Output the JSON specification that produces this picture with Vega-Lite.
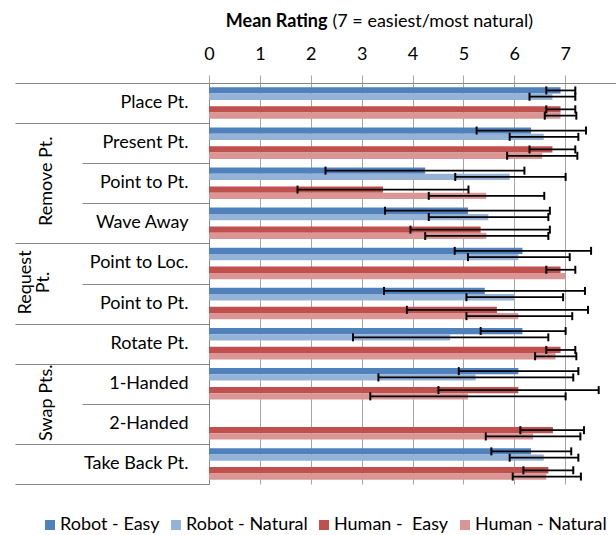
{
  "$schema": "https://vega.github.io/schema/vega-lite/v6.json",
  "width": 407,
  "height": 401,
  "autosize": {"type": "none"},
  "padding": {"left": 209, "top": 83, "right": 0, "bottom": 51},
  "background": "white",
  "config": {
    "font": "Lato",
    "view": {"stroke": null},
    "axis": {"labelFont": "Lato", "titleFont": "Lato", "labelFontSize": 18, "titleFontSize": 18, "labelColor": "#000", "titleColor": "#000"},
    "legend": {"labelFont": "Lato"}
  },
  "data": {
    "values": [
      {"task": "Place Pt.", "series": "Robot - Easy", "mean": 6.91, "lo": 6.63, "hi": 7.2},
      {"task": "Place Pt.", "series": "Robot - Natural", "mean": 6.75, "lo": 6.3, "hi": 7.2},
      {"task": "Place Pt.", "series": "Human - \u00a0Easy", "mean": 6.91, "lo": 6.63, "hi": 7.2},
      {"task": "Place Pt.", "series": "Human - Natural", "mean": 6.91, "lo": 6.6, "hi": 7.22},
      {"task": "Present Pt.", "series": "Robot - Easy", "mean": 6.33, "lo": 5.26, "hi": 7.41},
      {"task": "Present Pt.", "series": "Robot - Natural", "mean": 6.58, "lo": 5.91, "hi": 7.26},
      {"task": "Present Pt.", "series": "Human - \u00a0Easy", "mean": 6.75, "lo": 6.3, "hi": 7.2},
      {"task": "Present Pt.", "series": "Human - Natural", "mean": 6.55, "lo": 5.86, "hi": 7.24},
      {"task": "Point to Pt.", "series": "Robot - Easy", "mean": 4.25, "lo": 2.29, "hi": 6.2},
      {"task": "Point to Pt.", "series": "Robot - Natural", "mean": 5.91, "lo": 4.84, "hi": 7.01},
      {"task": "Point to Pt.", "series": "Human - \u00a0Easy", "mean": 3.42, "lo": 1.74, "hi": 5.1},
      {"task": "Point to Pt.", "series": "Human - Natural", "mean": 5.45, "lo": 4.32, "hi": 6.59},
      {"task": "Wave Away", "series": "Robot - Easy", "mean": 5.09, "lo": 3.46, "hi": 6.7},
      {"task": "Wave Away", "series": "Robot - Natural", "mean": 5.49, "lo": 4.32, "hi": 6.67},
      {"task": "Wave Away", "series": "Human - \u00a0Easy", "mean": 5.34, "lo": 3.96, "hi": 6.7},
      {"task": "Wave Away", "series": "Human - Natural", "mean": 5.45, "lo": 4.25, "hi": 6.67},
      {"task": "Point to Loc.", "series": "Robot - Easy", "mean": 6.16, "lo": 4.83, "hi": 7.51},
      {"task": "Point to Loc.", "series": "Robot - Natural", "mean": 6.08, "lo": 5.09, "hi": 7.09},
      {"task": "Point to Loc.", "series": "Human - \u00a0Easy", "mean": 6.91, "lo": 6.63, "hi": 7.2},
      {"task": "Point to Loc.", "series": "Human - Natural", "mean": 7.0, "lo": null, "hi": null},
      {"task": "Point to Pt.#2", "series": "Robot - Easy", "mean": 5.42, "lo": 3.44, "hi": 7.39},
      {"task": "Point to Pt.#2", "series": "Robot - Natural", "mean": 6.0, "lo": 5.06, "hi": 6.96},
      {"task": "Point to Pt.#2", "series": "Human - \u00a0Easy", "mean": 5.66, "lo": 3.89, "hi": 7.45},
      {"task": "Point to Pt.#2", "series": "Human - Natural", "mean": 6.08, "lo": 5.06, "hi": 7.14},
      {"task": "Rotate Pt.", "series": "Robot - Easy", "mean": 6.16, "lo": 5.34, "hi": 7.01},
      {"task": "Rotate Pt.", "series": "Robot - Natural", "mean": 4.74, "lo": 2.83, "hi": 6.67},
      {"task": "Rotate Pt.", "series": "Human - \u00a0Easy", "mean": 6.91, "lo": 6.63, "hi": 7.2},
      {"task": "Rotate Pt.", "series": "Human - Natural", "mean": 6.81, "lo": 6.41, "hi": 7.22},
      {"task": "1-Handed", "series": "Robot - Easy", "mean": 6.08, "lo": 4.91, "hi": 7.26},
      {"task": "1-Handed", "series": "Robot - Natural", "mean": 5.24, "lo": 3.33, "hi": 7.16},
      {"task": "1-Handed", "series": "Human - \u00a0Easy", "mean": 6.08, "lo": 4.51, "hi": 7.66},
      {"task": "1-Handed", "series": "Human - Natural", "mean": 5.09, "lo": 3.17, "hi": 7.01},
      {"task": "2-Handed", "series": "Human - \u00a0Easy", "mean": 6.76, "lo": 6.12, "hi": 7.37},
      {"task": "2-Handed", "series": "Human - Natural", "mean": 6.37, "lo": 5.44, "hi": 7.3},
      {"task": "Take Back Pt.", "series": "Robot - Easy", "mean": 6.33, "lo": 5.55, "hi": 7.12},
      {"task": "Take Back Pt.", "series": "Robot - Natural", "mean": 6.58, "lo": 5.91, "hi": 7.26},
      {"task": "Take Back Pt.", "series": "Human - \u00a0Easy", "mean": 6.67, "lo": 6.18, "hi": 7.16},
      {"task": "Take Back Pt.", "series": "Human - Natural", "mean": 6.63, "lo": 5.97, "hi": 7.31}
    ]
  },
  "layer": [
    {
      "mark": {"type": "bar", "opacity": 1},
      "encoding": {
        "y": {
          "field": "task", "type": "nominal",
          "sort": ["Place Pt.", "Present Pt.", "Point to Pt.", "Wave Away", "Point to Loc.", "Point to Pt.#2", "Rotate Pt.", "1-Handed", "2-Handed", "Take Back Pt."],
          "scale": {"paddingInner": 0, "paddingOuter": 0},
          "axis": {"orient": "left", "title": null, "ticks": false, "grid": false, "labelPadding": 21, "labelAlign": "right", "labelBaseline": "middle", "labelExpr": "replace(datum.value, '#2', '')", "domainColor": "#868686", "domainWidth": 1, "labelLimit": 300}
        },
        "yOffset": {
          "field": "series", "type": "nominal",
          "scale": {"domain": ["Robot - Easy", "Robot - Natural", "gap", "Human - \u00a0Easy", "Human - Natural"], "paddingInner": 0, "paddingOuter": 0.68}
        },
        "x": {
          "field": "mean", "type": "quantitative",
          "scale": {"domain": [0, 8], "nice": false, "zero": true},
          "axis": {"orient": "top", "values": [0, 1, 2, 3, 4, 5, 6, 7], "grid": true, "gridColor": "#A6A6A6", "gridWidth": 1, "tickColor": "#A6A6A6", "tickSize": 8, "domainColor": "#868686", "labelPadding": 16, "labelBaseline": "alphabetic", "labelFlush": false, "title": "Mean Rating", "titleFontWeight": "bold", "titleAlign": "right", "titleAnchor": "start", "titleX": 118, "titleY": -57, "titleBaseline": "alphabetic"}
        },
        "color": {
          "field": "series", "type": "nominal",
          "scale": {"domain": ["Robot - Easy", "Robot - Natural", "Human - \u00a0Easy", "Human - Natural"], "range": ["#4F81BD", "#95B3D7", "#C0504D", "#D99694"]},
          "legend": {"orient": "none", "legendX": -168, "legendY": 433, "direction": "horizontal", "columns": 4, "title": null, "symbolType": "square", "symbolSize": 100, "symbolStrokeWidth": 0, "labelFontSize": 18, "labelColor": "#000", "labelOffset": 1, "columnPadding": 7, "labelLimit": 300, "padding": 0}
        }
      }
    },
    {
      "mark": {"type": "rule", "color": "black", "strokeWidth": 1.75, "opacity": 1},
      "encoding": {
        "y": {
          "field": "task", "type": "nominal",
          "sort": ["Place Pt.", "Present Pt.", "Point to Pt.", "Wave Away", "Point to Loc.", "Point to Pt.#2", "Rotate Pt.", "1-Handed", "2-Handed", "Take Back Pt."],
          "axis": {"orient": "left", "title": null, "labels": false, "domain": false, "grid": false, "ticks": true, "tickBand": "extent", "tickColor": "#868686", "tickWidth": 1,
            "tickSize": {"condition": {"test": "indexof(['Present Pt.', 'Point to Pt.', 'Point to Loc.', '1-Handed'], datum.value) >= 0", "value": 127}, "value": 194}}
        },
        "yOffset": {"field": "series", "type": "nominal"},
        "x": {
          "field": "lo", "type": "quantitative",
          "scale": {"domain": [0, 8], "nice": false},
          "axis": {"orient": "top", "labels": false, "ticks": false, "domain": false, "grid": false, "title": "(7 = easiest/most natural)", "titleFontWeight": "normal", "titleAlign": "left", "titleAnchor": "start", "titleX": 123, "titleY": -57, "titleBaseline": "alphabetic"}
        },
        "x2": {"field": "hi"}
      }
    },
    {
      "mark": {"type": "tick", "color": "black", "thickness": 2, "size": 8, "opacity": 1},
      "encoding": {
        "y": {
          "field": "task", "type": "nominal",
          "sort": ["Place Pt.", "Present Pt.", "Point to Pt.", "Wave Away", "Point to Loc.", "Point to Pt.#2", "Rotate Pt.", "1-Handed", "2-Handed", "Take Back Pt."],
          "axis": {"orient": "left", "title": null, "ticks": false, "domain": false, "grid": false,
            "values": ["Point to Pt.", "Point to Loc.", "1-Handed"],
            "labelExpr": "datum.value == 'Point to Pt.' ? 'Remove Pt.' : datum.value == 'Point to Loc.' ? ['Request', 'Pt.'] : 'Swap Pts.'",
            "labelAngle": 270, "labelAlign": "center", "labelBaseline": "bottom", "labelLineHeight": 18, "labelLimit": 300,
            "labelPadding": {"condition": {"test": "datum.value == 'Point to Loc.'", "value": 175}, "value": 154},
            "labelOffset": {"condition": {"test": "datum.value == 'Point to Pt.'", "value": -2}, "value": 19}}
        },
        "yOffset": {"field": "series", "type": "nominal"},
        "x": {"field": "lo", "type": "quantitative", "scale": {"domain": [0, 8], "nice": false}, "axis": null}
      }
    },
    {
      "mark": {"type": "tick", "color": "black", "thickness": 2, "size": 8, "opacity": 1},
      "encoding": {
        "y": {
          "field": "task", "type": "nominal",
          "sort": ["Place Pt.", "Present Pt.", "Point to Pt.", "Wave Away", "Point to Loc.", "Point to Pt.#2", "Rotate Pt.", "1-Handed", "2-Handed", "Take Back Pt."],
          "axis": null
        },
        "yOffset": {"field": "series", "type": "nominal"},
        "x": {"field": "hi", "type": "quantitative", "scale": {"domain": [0, 8], "nice": false}, "axis": null}
      }
    }
  ],
  "resolve": {"axis": {"x": "independent", "y": "independent"}}
}
